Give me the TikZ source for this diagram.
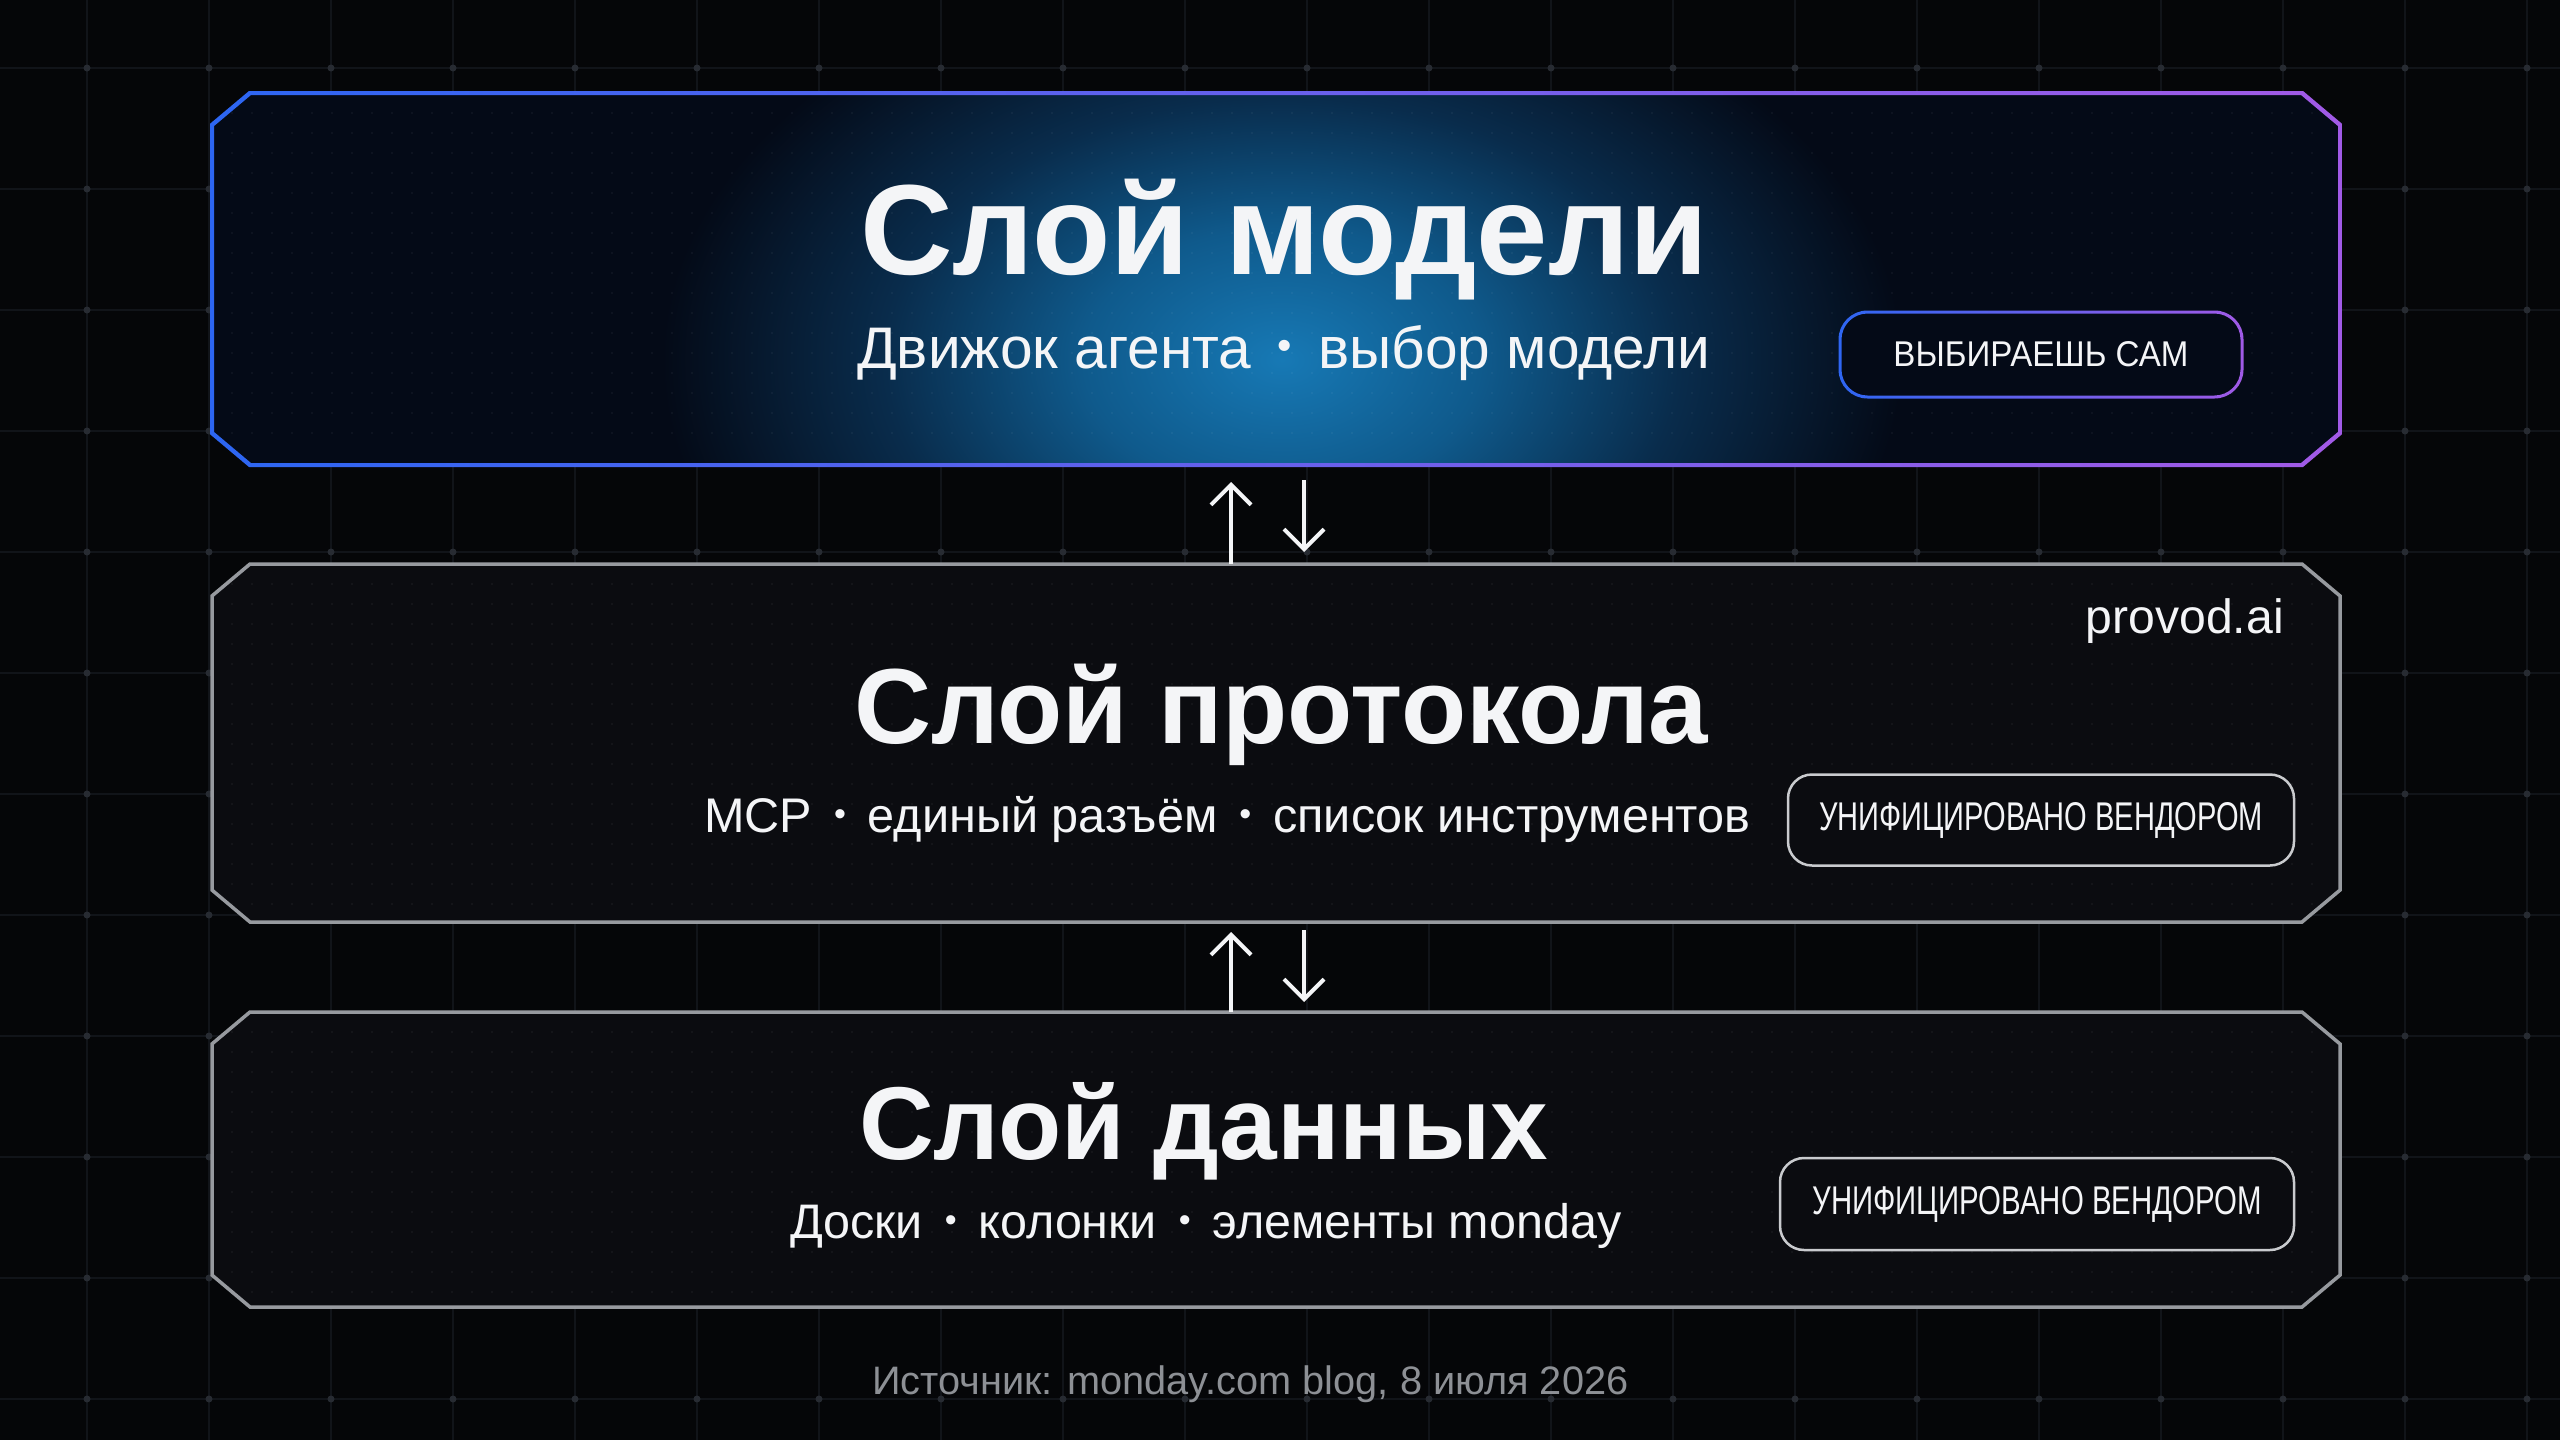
\documentclass[tikz,border=0pt]{standalone}
\usepackage{fontspec}
\setmainfont{Liberation Sans}
\usetikzlibrary{arrows.meta}
\definecolor{bgc}{HTML}{050608}
\definecolor{gridc}{HTML}{111419}
\definecolor{dotc}{HTML}{272b32}
\definecolor{navyc}{HTML}{040a17}
\definecolor{glowa}{HTML}{1779b5}
\definecolor{glowb}{HTML}{0f5a8c}
\definecolor{glowc}{HTML}{092c4c}
\definecolor{bluel}{HTML}{2c66f2}
\definecolor{purpr}{HTML}{a25ae6}
\definecolor{grayb}{HTML}{979a9f}
\definecolor{boxc}{HTML}{0b0c10}
\definecolor{badgeb}{HTML}{c9cbce}
\definecolor{txt}{HTML}{f4f5f7}
\definecolor{foot}{HTML}{8d9095}
\pgfdeclareradialshading{glowsh}{\pgfpoint{0bp}{0bp}}{color(0bp)=(glowa); color(8bp)=(glowb); color(16bp)=(glowc); color(25bp)=(navyc); color(50bp)=(navyc)}
\newcommand\champath[5]{(#1+#5,#2) -- (#3-#5,#2) -- (#3,#2+0.84*#5) -- (#3,#4-0.84*#5) -- (#3-#5,#4) -- (#1+#5,#4) -- (#1,#4-0.84*#5) -- (#1,#2+0.84*#5) -- cycle}
\newcommand\bul{\hspace{0.45em}\raisebox{0.14em}{\scalebox{0.7}{•}}\hspace{0.45em}}
\tikzset{
  boxnode/.style={rectangle, inner sep=0pt, outer sep=0pt},
  title/.style={anchor=base west, inner sep=0pt, text=txt, font=\bfseries},
  subt/.style={anchor=base west, inner sep=0pt, text=txt},
  graypill/.style={draw=badgeb, line width=2.5pt, fill=boxc, rounded corners=24pt, text=txt, inner sep=0pt},
  gradpill/.style={fill=navyc, rounded corners=28pt, text=txt, inner sep=0pt},
  arr/.style={line width=4pt, draw=txt, -{Straight Barb[length=20pt,width=40pt]}},
  innerdot/.style={fill=white, opacity=0.05},
}
\begin{document}
\begin{tikzpicture}[x=1pt,y=-1pt]
\useasboundingbox (0,0) rectangle (2560,1440);
\fill[bgc] (0,0) rectangle (2560,1440);
% background grid
\foreach \i in {0,...,20} \draw[gridc, line width=1.5pt] ({87+122*\i},0) -- ({87+122*\i},1440);
\foreach \j in {0,...,11} \draw[gridc, line width=1.5pt] (0,{68+121*\j}) -- (2560,{68+121*\j});
\foreach \i in {0,...,20} \foreach \j in {0,...,11} \fill[dotc] ({87+122*\i},{68+121*\j}) circle (3.5pt);

% named layer nodes
\node[boxnode, minimum width=2128pt, minimum height=372pt] (model) at (1276,279) {};
\node[boxnode, minimum width=2128pt, minimum height=358pt] (proto) at (1276,743) {};
\node[boxnode, minimum width=2128pt, minimum height=295pt] (data) at (1276,1159.5) {};

% ---- top box (model layer)
\fill[navyc] \champath{212}{93}{2340}{465}{38};
\begin{scope}
  \clip \champath{212}{93}{2340}{465}{38};
  \shade[shading=glowsh] (1282,360) ellipse (620pt and 410pt);
  \foreach \x in {232,252,...,2320} \foreach \y in {113,133,...,450} \fill[innerdot] (\x,\y) circle (1.2pt);
\end{scope}
\begin{scope}[even odd rule]
  \clip \champath{210}{91}{2342}{467}{39} \champath{214}{95}{2338}{463}{37};
  \shade[left color=bluel, right color=purpr] (200,80) rectangle (2350,480);
\end{scope}

% ---- middle box
\fill[boxc] \champath{212}{564}{2340}{922}{38};
\begin{scope}
  \clip \champath{212}{564}{2340}{922}{38};
  \foreach \x in {232,252,...,2320} \foreach \y in {584,604,...,910} \fill[innerdot] (\x,\y) circle (1.2pt);
\end{scope}
\draw[grayb, line width=3.5pt] \champath{212}{564}{2340}{922}{38};

% ---- bottom box
\fill[boxc] \champath{212}{1012}{2340}{1307}{38};
\begin{scope}
  \clip \champath{212}{1012}{2340}{1307}{38};
  \foreach \x in {232,252,...,2320} \foreach \y in {1032,1052,...,1295} \fill[innerdot] (\x,\y) circle (1.2pt);
\end{scope}
\draw[grayb, line width=3.5pt] \champath{212}{1012}{2340}{1307}{38};

% ---- texts
\node[title] (t1) at (860,274) {\resizebox{848pt}{!}{\bfseries Слой модели}};
\node[subt] (s1) at (857,368) {\resizebox{853pt}{!}{Движок агента\bul выбор модели}};
\node[title] (t2) at (854,743) {\resizebox{854pt}{!}{\bfseries Слой протокола}};
\node[subt] (s2) at (704,832) {\resizebox{1046pt}{!}{MCP\bul единый разъём\bul список инструментов}};
\node[title] (t3) at (859,1159) {\resizebox{689pt}{!}{\bfseries Слой данных}};
\node[subt] (s3) at (790,1238) {\resizebox{831pt}{!}{Доски\bul колонки\bul элементы monday}};
\node[anchor=base east, inner sep=0pt, text=txt] (brand) at (2284,633) {\resizebox{198pt}{!}{provod.ai}};
\node[anchor=base west, inner sep=0pt, text=foot] (src) at (872,1394) {\resizebox{756pt}{!}{Источник: monday.com blog, 8 июля 2026}};

% ---- badges
\node[gradpill, minimum width=402pt, minimum height=86pt] (pick) at (2041,354.5) {};
\begin{scope}[even odd rule]
  \clip[rounded corners=29pt] (1838.5,310.5) rectangle (2243.5,398.5) [rounded corners=26pt] (1841.5,313.5) rectangle (2240.5,395.5);
  \shade[left color=bluel, right color=purpr] (1830,300) rectangle (2250,410);
\end{scope}
\node[inner sep=0pt, text=txt] (picktxt) at (pick.center) {\resizebox{295pt}{25pt}{ВЫБИРАЕШЬ САМ}};
\node[graypill, minimum width=506pt, minimum height=91pt] (vend1) at (2041,820) {\resizebox{444pt}{28pt}{УНИФИЦИРОВАНО ВЕНДОРОМ}};
\node[graypill, minimum width=514pt, minimum height=92pt] (vend2) at (2037,1204) {\resizebox{449pt}{28pt}{УНИФИЦИРОВАНО ВЕНДОРОМ}};

% ---- arrows
\draw[arr] ([xshift=-45pt]proto.north) -- ([xshift=-45pt,yshift=-17pt]model.south);
\draw[arr] ([xshift=28pt,yshift=-15pt]model.south) -- ([xshift=28pt,yshift=12pt]proto.north);
\draw[arr] ([xshift=-45pt]data.north) -- ([xshift=-45pt,yshift=-10pt]proto.south);
\draw[arr] ([xshift=28pt,yshift=-8pt]proto.south) -- ([xshift=28pt,yshift=10pt]data.north);
\end{tikzpicture}
\end{document}
